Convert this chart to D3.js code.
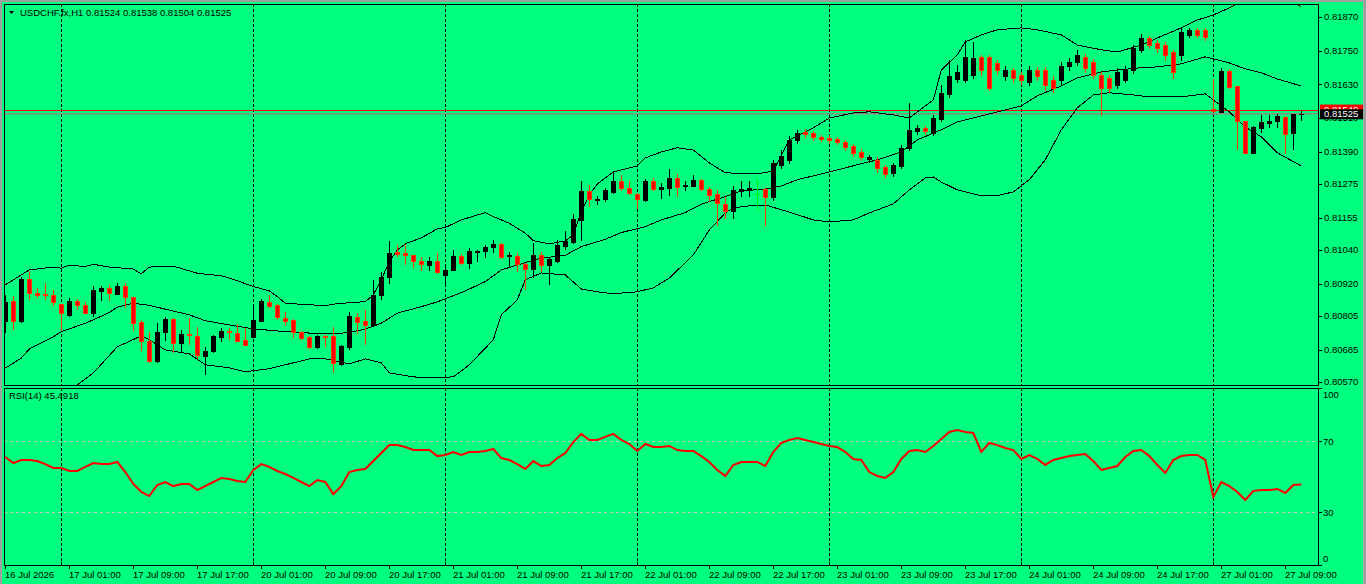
<!DOCTYPE html>
<html>
<head>
<meta charset="utf-8">
<script src="https://cdn.jsdelivr.net/npm/d3@7"></script>
<style>
  html, body { margin: 0; padding: 0; background: #00ff7f; overflow: hidden; }
  svg { display: block; }
  text { font-family: "Liberation Sans", Arial, sans-serif; font-size: 9.5px; fill: #000; }
</style>
</head>
<body>
<div id="chart"></div>
<script>
// header texts
const chartTitle = "USDCHF.fx,H1  0.81524 0.81538 0.81504 0.81525";
const rsiTitle = "RSI(14) 45.4918";

// H1 candles, bar 0 = 16 Jul 17:00 ... bar 162 = 27 Jul 11:00
const opens = [0.80788,0.80859,0.80787,0.80937,0.80886,0.80884,0.80879,0.80848,0.80809,0.80858,
  0.80844,0.80817,0.80895,0.80906,0.80884,0.80912,0.80873,0.80784,0.80715,0.80646,
  0.80747,0.80793,0.80710,0.80742,0.80734,0.80664,0.80679,0.80729,0.80752,0.80744,
  0.80720,0.80731,0.80788,0.80854,0.80844,0.80797,0.80791,0.80748,0.80729,0.80696,
  0.80735,0.80734,0.80633,0.80696,0.80800,0.80786,0.80774,0.80878,0.80945,0.81033,
  0.81030,0.81021,0.81000,0.80988,0.81001,0.80952,0.80969,0.81020,0.80993,0.81033,
  0.81036,0.81050,0.81062,0.81019,0.81019,0.80990,0.80972,0.81022,0.80988,0.81002,
  0.81054,0.81069,0.81147,0.81250,0.81218,0.81221,0.81248,0.81286,0.81260,0.81240,
  0.81218,0.81287,0.81257,0.81262,0.81296,0.81266,0.81269,0.81290,0.81257,0.81239,
  0.81204,0.81177,0.81249,0.81252,0.81240,0.81257,0.81229,0.81343,0.81361,0.81432,
  0.81461,0.81457,0.81443,0.81439,0.81436,0.81425,0.81411,0.81389,0.81364,0.81361,
  0.81336,0.81315,0.81339,0.81404,0.81464,0.81475,0.81457,0.81507,0.81596,0.81649,
  0.81646,0.81664,0.81728,0.81728,0.81706,0.81660,0.81681,0.81664,0.81639,0.81681,
  0.81681,0.81646,0.81646,0.81696,0.81710,0.81728,0.81710,0.81664,0.81653,0.81628,
  0.81646,0.81681,0.81753,0.81795,0.81778,0.81770,0.81745,0.81735,0.81806,0.81824,
  0.81824,0.81542,0.81533,0.81679,0.81624,0.81499,0.81385,0.81476,0.81491,0.81501,
  0.81515,0.81456,0.81524];
const highs = [0.80880,0.80877,0.80945,0.80966,0.80906,0.80922,0.80898,0.80849,0.80868,0.80866,
  0.80853,0.80910,0.80912,0.80916,0.80922,0.80922,0.80874,0.80791,0.80746,0.80781,
  0.80800,0.80797,0.80755,0.80799,0.80767,0.80696,0.80737,0.80761,0.80763,0.80777,
  0.80761,0.80848,0.80866,0.80880,0.80848,0.80818,0.80793,0.80752,0.80734,0.80736,
  0.80737,0.80765,0.80702,0.80819,0.80815,0.80827,0.80934,0.80961,0.81072,0.81057,
  0.81062,0.81022,0.81014,0.81014,0.81028,0.80981,0.81040,0.81026,0.81046,0.81040,
  0.81057,0.81076,0.81064,0.81031,0.81028,0.80995,0.81066,0.81034,0.81014,0.81076,
  0.81109,0.81168,0.81284,0.81272,0.81232,0.81260,0.81319,0.81306,0.81284,0.81242,
  0.81292,0.81296,0.81278,0.81329,0.81311,0.81284,0.81307,0.81292,0.81264,0.81254,
  0.81230,0.81268,0.81286,0.81286,0.81293,0.81259,0.81361,0.81396,0.81446,0.81468,
  0.81471,0.81464,0.81450,0.81450,0.81443,0.81432,0.81418,0.81400,0.81379,0.81372,
  0.81343,0.81350,0.81414,0.81564,0.81485,0.81482,0.81521,0.81628,0.81717,0.81699,
  0.81788,0.81781,0.81735,0.81735,0.81717,0.81696,0.81689,0.81674,0.81696,0.81692,
  0.81692,0.81660,0.81710,0.81724,0.81753,0.81738,0.81721,0.81674,0.81664,0.81689,
  0.81696,0.81770,0.81810,0.81802,0.81788,0.81781,0.81753,0.81831,0.81831,0.81831,
  0.81831,0.81648,0.81687,0.81684,0.81624,0.81499,0.81480,0.81521,0.81521,0.81525,
  0.81517,0.81525,0.81538];
const lows = [0.80746,0.80759,0.80785,0.80867,0.80871,0.80867,0.80845,0.80755,0.80806,0.80829,
  0.80815,0.80803,0.80862,0.80862,0.80884,0.80838,0.80755,0.80682,0.80640,0.80641,
  0.80720,0.80678,0.80675,0.80706,0.80655,0.80598,0.80677,0.80717,0.80722,0.80714,
  0.80702,0.80729,0.80787,0.80836,0.80794,0.80771,0.80731,0.80722,0.80692,0.80692,
  0.80699,0.80607,0.80631,0.80689,0.80744,0.80706,0.80772,0.80865,0.80924,0.81019,
  0.80990,0.80979,0.80967,0.80969,0.80958,0.80924,0.80967,0.80990,0.80977,0.81000,
  0.81016,0.81034,0.81013,0.80981,0.80965,0.80900,0.80945,0.80965,0.80918,0.80998,
  0.81043,0.81066,0.81076,0.81197,0.81202,0.81215,0.81244,0.81252,0.81240,0.81189,
  0.81216,0.81254,0.81226,0.81236,0.81233,0.81254,0.81268,0.81252,0.81216,0.81129,
  0.81153,0.81153,0.81232,0.81232,0.81185,0.81129,0.81218,0.81332,0.81350,0.81421,
  0.81443,0.81432,0.81428,0.81421,0.81418,0.81396,0.81375,0.81361,0.81354,0.81318,
  0.81300,0.81304,0.81332,0.81396,0.81453,0.81453,0.81450,0.81500,0.81585,0.81639,
  0.81639,0.81653,0.81664,0.81610,0.81667,0.81646,0.81639,0.81632,0.81628,0.81646,
  0.81610,0.81603,0.81632,0.81681,0.81699,0.81674,0.81653,0.81521,0.81603,0.81617,
  0.81639,0.81671,0.81745,0.81760,0.81745,0.81717,0.81653,0.81717,0.81799,0.81799,
  0.81788,0.81533,0.81533,0.81618,0.81400,0.81385,0.81385,0.81459,0.81477,0.81477,
  0.81385,0.81400,0.81504];
const closes = [0.80856,0.80788,0.80937,0.80886,0.80878,0.80878,0.80856,0.80815,0.80859,0.80843,
  0.80817,0.80898,0.80906,0.80886,0.80912,0.80872,0.80781,0.80717,0.80644,0.80747,
  0.80794,0.80710,0.80741,0.80736,0.80665,0.80680,0.80734,0.80752,0.80746,0.80717,
  0.80703,0.80791,0.80859,0.80842,0.80800,0.80788,0.80746,0.80728,0.80696,0.80734,
  0.80731,0.80637,0.80698,0.80803,0.80785,0.80771,0.80880,0.80945,0.81028,0.81024,
  0.81021,0.81000,0.80989,0.81001,0.80960,0.80969,0.81019,0.80993,0.81037,0.81037,
  0.81052,0.81062,0.81016,0.81021,0.80990,0.80972,0.81022,0.80986,0.81007,0.81058,
  0.81073,0.81151,0.81250,0.81221,0.81222,0.81252,0.81286,0.81260,0.81242,0.81223,
  0.81287,0.81257,0.81265,0.81296,0.81264,0.81271,0.81290,0.81257,0.81237,0.81207,
  0.81179,0.81254,0.81257,0.81259,0.81240,0.81228,0.81350,0.81375,0.81432,0.81457,
  0.81453,0.81443,0.81436,0.81432,0.81425,0.81407,0.81386,0.81372,0.81372,0.81332,
  0.81311,0.81343,0.81404,0.81468,0.81475,0.81464,0.81510,0.81600,0.81660,0.81674,
  0.81728,0.81724,0.81681,0.81617,0.81681,0.81681,0.81653,0.81646,0.81681,0.81660,
  0.81628,0.81617,0.81696,0.81710,0.81735,0.81689,0.81664,0.81617,0.81617,0.81674,
  0.81681,0.81760,0.81795,0.81770,0.81760,0.81735,0.81674,0.81817,0.81824,0.81806,
  0.81799,0.81534,0.81678,0.81622,0.81500,0.81387,0.81477,0.81495,0.81500,0.81517,
  0.81452,0.81525,0.81525];

// Bollinger Bands(20,2): [bar, price]
const bbUpper = [[0,0.80916],[2,0.80951],[3,0.80969],[6,0.80979],[7,0.80975],[8,0.80986],[10,0.80981],
  [11,0.80989],[13,0.80979],[16,0.80972],[17,0.80955],[18,0.80979],[21,0.80982],[22,0.80974],
  [24,0.80957],[27,0.80948],[28,0.80940],[31,0.80910],[33,0.80894],[34,0.80874],[35,0.80850],
  [38,0.80845],[40,0.80841],[41,0.80847],[43,0.80852],[45,0.80856],[46,0.80880],[47,0.80934],
  [48,0.80998],[49,0.81040],[50,0.81062],[52,0.81083],[54,0.81115],[55,0.81120],[57,0.81147],
  [60,0.81173],[61,0.81159],[63,0.81135],[65,0.81100],[66,0.81073],[68,0.81062],[70,0.81072],
  [71,0.81094],[72,0.81176],[73,0.81236],[74,0.81275],[76,0.81318],[79,0.81339],[80,0.81368],
  [82,0.81389],[84,0.81404],[86,0.81396],[88,0.81350],[90,0.81315],[93,0.81311],[95,0.81315],
  [96,0.81322],[98,0.81432],[101,0.81475],[103,0.81510],[106,0.81528],[108,0.81532],[111,0.81521],
  [113,0.81510],[114,0.81532],[116,0.81574],[117,0.81681],[119,0.81735],[120,0.81781],[122,0.81806],
  [124,0.81824],[127,0.81831],[129,0.81824],[132,0.81806],[134,0.81770],[137,0.81753],[139,0.81745],
  [142,0.81770],[144,0.81795],[147,0.81831],[149,0.81859],[151,0.81877],[153,0.81902],[155,0.81931],
  [157,0.81952],[159,0.81952],[161,0.81920],[162,0.81906]];
const bbMiddle = [[0,0.80619],[2,0.80655],[3,0.80687],[6,0.80731],[7,0.80749],[10,0.80779],[11,0.80791],
  [13,0.80817],[14,0.80836],[16,0.80850],[18,0.80843],[20,0.80829],[23,0.80809],[25,0.80788],
  [28,0.80773],[31,0.80759],[35,0.80749],[38,0.80744],[41,0.80741],[43,0.80746],[45,0.80758],
  [47,0.80779],[49,0.80815],[52,0.80838],[54,0.80855],[57,0.80888],[60,0.80927],[62,0.80969],
  [65,0.80995],[67,0.81011],[70,0.81021],[72,0.81052],[75,0.81078],[77,0.81102],[80,0.81123],
  [82,0.81147],[85,0.81173],[87,0.81203],[90,0.81230],[92,0.81250],[95,0.81257],[97,0.81268],
  [99,0.81290],[103,0.81318],[107,0.81347],[109,0.81361],[112,0.81389],[114,0.81432],[117,0.81468],
  [119,0.81496],[122,0.81517],[124,0.81532],[127,0.81553],[129,0.81589],[132,0.81624],[134,0.81653],
  [137,0.81674],[139,0.81681],[142,0.81689],[144,0.81692],[147,0.81703],[150,0.81728],[151,0.81721],
  [153,0.81706],[155,0.81685],[157,0.81671],[159,0.81649],[162,0.81624]];
const bbLower = [[0,0.80325],[3,0.80403],[6,0.80485],[7,0.80524],[9,0.80559],[11,0.80602],[14,0.80695],
  [17,0.80734],[18,0.80720],[20,0.80684],[23,0.80670],[25,0.80631],[28,0.80620],[30,0.80606],
  [33,0.80617],[35,0.80631],[38,0.80652],[40,0.80652],[43,0.80634],[45,0.80652],[47,0.80638],
  [48,0.80602],[51,0.80588],[53,0.80584],[56,0.80588],[58,0.80631],[61,0.80720],[62,0.80809],
  [64,0.80862],[65,0.80934],[67,0.80958],[70,0.80951],[71,0.80926],[72,0.80901],[74,0.80891],
  [76,0.80884],[79,0.80891],[81,0.80905],[83,0.80940],[86,0.81022],[88,0.81111],[90,0.81172],
  [91,0.81190],[93,0.81197],[95,0.81200],[98,0.81175],[101,0.81147],[103,0.81140],[106,0.81147],
  [108,0.81172],[111,0.81204],[113,0.81254],[115,0.81297],[116,0.81300],[117,0.81282],[119,0.81254],
  [122,0.81233],[124,0.81233],[126,0.81247],[128,0.81290],[130,0.81361],[132,0.81468],[134,0.81546],
  [136,0.81592],[138,0.81600],[141,0.81592],[143,0.81585],[147,0.81585],[150,0.81596],[151,0.81574],
  [153,0.81532],[155,0.81478],[157,0.81443],[159,0.81386],[162,0.81339]];

// RSI(14), one value per bar
const rsi14 = [61.0,57.6,59.3,59.3,58.7,57.0,54.8,54.8,53.1,53.1,
  55.4,57.6,57.0,57.0,58.2,52.5,45.8,41.3,39.0,45.2,
  46.9,44.6,45.8,45.8,42.4,44.6,46.9,49.2,48.6,47.5,
  46.9,53.7,57.0,55.4,53.1,51.4,49.2,46.9,44.6,48.0,
  46.9,40.1,44.6,52.5,53.7,54.2,58.7,63.2,67.7,67.7,
  66.6,64.9,64.9,64.9,61.5,62.1,63.8,62.1,63.8,63.8,
  64.4,65.5,60.4,59.3,57.0,54.2,58.7,55.9,56.5,60.4,
  63.2,69.4,74.0,70.6,70.6,72.3,74.0,70.6,68.3,64.4,
  68.3,66.6,66.6,67.2,64.9,64.4,64.4,61.5,58.2,53.7,
  50.3,56.5,58.2,58.2,58.2,55.9,63.8,68.9,70.6,71.7,
  70.6,69.4,68.3,67.2,66.6,63.8,59.9,59.3,52.5,50.3,
  49.2,52.5,59.9,64.4,64.9,63.8,67.2,71.1,75.1,76.2,
  75.1,74.5,63.8,68.9,67.7,66.1,64.9,59.9,62.1,59.9,
  56.5,59.3,60.4,61.5,62.1,62.7,58.7,53.7,54.8,55.9,
  61.0,64.4,64.9,61.5,56.5,52.0,59.3,61.5,62.1,62.1,
  59.3,38.5,46.9,44.6,41.3,36.8,41.9,42.4,42.4,43.0,
  40.7,45.2,45.49];

const bidPrice = 0.81525;
const askPrice = 0.81540;
const askLabel = "0.81540";
const bidLabel = "0.81525";

const priceTicks = [0.81870, 0.81750, 0.81630, 0.81510, 0.81390, 0.81275, 0.81155, 0.81040, 0.80920, 0.80805, 0.80685, 0.80570];
const rsiTicks = [100, 70, 30, 0];
const rsiLevels = [70, 30];
const daySeparators = [7, 31, 55, 79, 103, 127, 151];
const timeTickBars = [0, 8, 16, 24, 32, 40, 48, 56, 64, 72, 80, 88, 96, 104, 112, 120, 128, 136, 144, 152, 160];
const timeTickLabels = ["16 Jul 2026", "17 Jul 01:00", "17 Jul 09:00", "17 Jul 17:00", "20 Jul 01:00",
  "20 Jul 09:00", "20 Jul 17:00", "21 Jul 01:00", "21 Jul 09:00", "21 Jul 17:00", "22 Jul 01:00",
  "22 Jul 09:00", "22 Jul 17:00", "23 Jul 01:00", "23 Jul 09:00", "23 Jul 17:00", "24 Jul 01:00",
  "24 Jul 09:00", "24 Jul 17:00", "27 Jul 01:00", "27 Jul 09:00"];

const W = 1366, H = 584;
const left = 4, right = 1318;
const mainTop = 4, mainBottom = 385;
const rsiTop = 388, rsiBottom = 565;

const svg = d3.select("#chart").append("svg").attr("width", W).attr("height", H);

svg.append("rect").attr("width", W).attr("height", H).attr("fill", "#00ff7f");
// window frame
svg.append("rect").attr("x", 0).attr("y", 0).attr("width", 2).attr("height", H).attr("fill", "#a0a0a0");
svg.append("rect").attr("x", 0).attr("y", 0).attr("width", W).attr("height", 2).attr("fill", "#a0a0a0");
svg.append("rect").attr("x", W - 3).attr("y", 0).attr("width", 3).attr("height", H).attr("fill", "#a0a0a0");

const x = d3.scaleLinear().domain([0, 162]).range([5.3, 1301.3]);
const y = d3.scaleLinear().domain([0.80559, 0.81916]).range([mainBottom, mainTop]);
const yr = d3.scaleLinear().domain([0, 100]).range([565.25, 387.75]);

const defs = svg.append("defs");
defs.append("clipPath").attr("id", "clipMain").append("rect")
  .attr("x", left + 1).attr("y", mainTop + 1).attr("width", right - left - 1).attr("height", mainBottom - mainTop - 1);
defs.append("clipPath").attr("id", "clipRsi").append("rect")
  .attr("x", left + 1).attr("y", rsiTop + 1).attr("width", right - left - 1).attr("height", rsiBottom - rsiTop - 1);

const px = i => Math.round(x(i));

// day separators
[[mainTop, mainBottom], [rsiTop, rsiBottom]].forEach(([t, b]) => {
  svg.append("g").selectAll("line").data(daySeparators).join("line")
    .attr("x1", d => px(d) + 0.5).attr("x2", d => px(d) + 0.5)
    .attr("y1", t).attr("y2", b)
    .attr("stroke", "#000").attr("stroke-width", 1).attr("stroke-dasharray", "3,2");
});

const gMain = svg.append("g").attr("clip-path", "url(#clipMain)");

// bid / ask lines
gMain.append("line").attr("x1", left).attr("x2", right)
  .attr("y1", Math.round(y(askPrice)) + 0.5).attr("y2", Math.round(y(askPrice)) + 0.5)
  .attr("stroke", "#ff0000").attr("stroke-width", 1);
gMain.append("line").attr("x1", left).attr("x2", right)
  .attr("y1", y(bidPrice)).attr("y2", y(bidPrice))
  .attr("stroke", "#8c8c8c").attr("stroke-width", 1.6);

// bollinger bands
const bandLine = d3.line().x(d => x(d[0])).y(d => y(d[1]));
[bbUpper, bbMiddle, bbLower].forEach(band => {
  gMain.append("path").attr("d", bandLine(band))
    .attr("fill", "none").attr("stroke", "#000").attr("stroke-width", 1)
    .attr("shape-rendering", "crispEdges");
});

// candles
const bars = d3.range(opens.length).map(i => ({ i, o: opens[i], h: highs[i], l: lows[i], c: closes[i] }));
const wickColor = d => d.c > d.o ? "#000" : (d.c < d.o ? "#ff3c00" : "#00f000");

gMain.append("g").selectAll("line").data(bars).join("line")
  .attr("x1", d => px(d.i) + 0.5).attr("x2", d => px(d.i) + 0.5)
  .attr("y1", d => Math.round(y(d.h))).attr("y2", d => Math.round(y(d.l)) + 1)
  .attr("stroke", wickColor).attr("stroke-width", 1);

gMain.append("g").selectAll("rect").data(bars.filter(d => d.o !== d.c)).join("rect")
  .attr("x", d => px(d.i) - 1.5)
  .attr("y", d => Math.round(y(Math.max(d.o, d.c))) + 0.5)
  .attr("width", 4)
  .attr("height", d => Math.max(0, Math.round(y(Math.min(d.o, d.c))) - Math.round(y(Math.max(d.o, d.c)))))
  .attr("fill", d => d.c > d.o ? "#000" : "#ff0000")
  .attr("stroke", d => d.c > d.o ? "#000" : "#ff3c00")
  .attr("stroke-width", 1);

// doji ticks
gMain.append("g").selectAll("line").data(bars.filter(d => Math.abs(d.o - d.c) < 0.000015)).join("line")
  .attr("x1", d => px(d.i) - 2).attr("x2", d => px(d.i) + 3)
  .attr("y1", d => Math.round(y(d.c)) + 0.5).attr("y2", d => Math.round(y(d.c)) + 0.5)
  .attr("stroke", wickColor);

// rsi levels and line
const gRsi = svg.append("g").attr("clip-path", "url(#clipRsi)");
gRsi.selectAll("line.lvl").data(rsiLevels).join("line").attr("class", "lvl")
  .attr("x1", left).attr("x2", right)
  .attr("y1", d => Math.round(yr(d)) + 0.5).attr("y2", d => Math.round(yr(d)) + 0.5)
  .attr("stroke", "#c8c8c8").attr("stroke-dasharray", "3,3");

gRsi.append("path").datum(rsi14)
  .attr("d", d3.line().x((d, i) => x(i)).y(d => yr(d)))
  .attr("fill", "none").attr("stroke", "#ff0000").attr("stroke-width", 2);

// panel frames
[[mainTop, mainBottom], [rsiTop, rsiBottom]].forEach(([t, b]) => {
  svg.append("rect").attr("x", left + 0.5).attr("y", t + 0.5)
    .attr("width", right - left).attr("height", b - t)
    .attr("fill", "none").attr("stroke", "#000").attr("stroke-width", 1);
});

// price axis
const pAxis = svg.append("g");
pAxis.selectAll("line").data(priceTicks).join("line")
  .attr("x1", right).attr("x2", right + 4)
  .attr("y1", d => Math.round(y(d)) + 0.5).attr("y2", d => Math.round(y(d)) + 0.5)
  .attr("stroke", "#000");
pAxis.selectAll("text").data(priceTicks).join("text")
  .attr("x", right + 6).attr("y", d => y(d) + 3.5)
  .text(d => d3.format(".5f")(d));

// ask / bid boxes
svg.append("rect").attr("x", right + 2).attr("y", y(askPrice) - 5).attr("width", 43).attr("height", 10).attr("fill", "#ff0000");
svg.append("text").attr("x", right + 6).attr("y", y(askPrice) + 3.5).style("fill", "#fff").text(askLabel);
svg.append("rect").attr("x", right + 2).attr("y", y(bidPrice) - 4.5).attr("width", 43).attr("height", 10).attr("fill", "#000");
svg.append("text").attr("x", right + 6).attr("y", y(bidPrice) + 3.5).style("fill", "#fff").text(bidLabel);

// rsi axis
const rAxis = svg.append("g");
rAxis.selectAll("line").data(rsiTicks).join("line")
  .attr("x1", right).attr("x2", right + 4)
  .attr("y1", d => Math.round(yr(d)) + 0.5).attr("y2", d => Math.round(yr(d)) + 0.5)
  .attr("stroke", "#000");
rAxis.selectAll("text").data(rsiTicks).join("text")
  .attr("x", right + 5)
  .attr("y", d => Math.min(Math.max(yr(d), rsiTop + 6), rsiBottom - 7) + 3.5)
  .text(d => d);

// time axis
const tAxis = svg.append("g");
tAxis.selectAll("line").data(timeTickBars).join("line")
  .attr("x1", d => px(d) + 0.5).attr("x2", d => px(d) + 0.5)
  .attr("y1", rsiBottom).attr("y2", rsiBottom + 4)
  .attr("stroke", "#000");
tAxis.selectAll("line.sep").data(daySeparators).join("line").attr("class", "sep")
  .attr("x1", d => px(d) + 0.5).attr("x2", d => px(d) + 0.5)
  .attr("y1", rsiBottom - 3).attr("y2", rsiBottom)
  .attr("stroke", "#000");
tAxis.selectAll("text").data(timeTickBars).join("text")
  .attr("x", d => px(d)).attr("y", 578)
  .text((d, i) => timeTickLabels[i]);

// titles
svg.append("path").attr("d", "M9,11 L14,11 L11.5,14 Z").attr("fill", "#000");
svg.append("text").attr("x", 20).attr("y", 16).text(chartTitle);
svg.append("text").attr("x", 9).attr("y", 399).text(rsiTitle);
</script>
</body>
</html>
